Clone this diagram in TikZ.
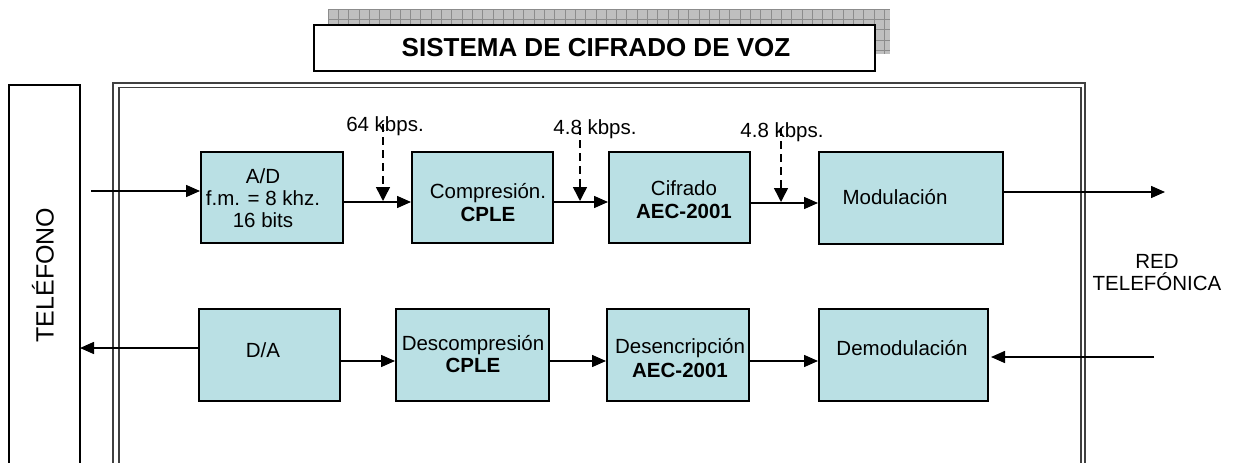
\documentclass[tikz,border=0pt]{standalone}
\usepackage{fontspec}
\setmainfont{Liberation Sans}
\usetikzlibrary{arrows.meta,calc}
\definecolor{boxfill}{RGB}{186,224,228}
\begin{document}
\begin{tikzpicture}[x=1pt,y=-1pt,
  blk/.style={draw=black,line width=1.5pt,fill=boxfill,inner sep=0pt,anchor=north west},
  txt/.style={font=\fontsize{20.5}{23}\selectfont,align=center,inner sep=0pt},
  arr/.style={line width=1.5pt,-{Triangle[length=14pt,width=12pt]}},
  darr/.style={line width=1.5pt,dash pattern=on 8pt off 5pt,-{Triangle[length=14pt,width=14pt]}},
  frame/.style={line width=1.3pt,draw=black!75},
]
\useasboundingbox (0,0) rectangle (1237,463);
% title shadow
\fill[black!25] (328,9) rectangle (890,54);
\foreach \i in {0,...,54} {\draw[black!45,line width=0.6pt] ({328+10.3*\i},9) -- ({328+10.3*\i},54);}
\foreach \j in {0,...,4} {\draw[black!45,line width=0.6pt] (328,{9+10.3*\j}) -- (890,{9+10.3*\j});}
\fill[white] (891,0) rectangle (900,60);
\node[draw,line width=2pt,fill=white,minimum width=561pt,minimum height=46pt,inner sep=0pt,anchor=north west] (title) at (313,24) {};
\node[txt,font=\fontsize{26}{28}\selectfont\bfseries] (titlet) at (596,48) {SISTEMA DE CIFRADO DE VOZ};
% telefono
\draw[line width=1.3pt] (9,463) -- (9,85) -- (80,85) -- (80,463);
\node[txt,font=\fontsize{25}{27}\selectfont,rotate=90] (telt) at (43,275) {TELÉFONO};
% main frame
\draw[frame] (113,463) -- (113,83) -- (1085,83) -- (1085,463);
\draw[frame] (119,463) -- (119,87.5) -- (1081,87.5) -- (1081,463);
% row 1
\node[blk,minimum width=142pt,minimum height=91pt] (ad) at (200,151) {};
\node[blk,minimum width=141pt,minimum height=91pt] (cp) at (411,151) {};
\node[blk,minimum width=141pt,minimum height=91pt] (cf) at (608,151) {};
\node[blk,minimum width=184pt,minimum height=92pt] (mo) at (818,151) {};
\node[txt,font=\fontsize{20.5}{21.7}\selectfont] (adt) at (263,198) {A/D\\f.m. = 8 khz.\\16 bits};
\node[txt] (cpt) at (488,203) {Compresión.\\\textbf{CPLE}};
\node[txt] (cft) at (684,200) {Cifrado\\\textbf{AEC-2001}};
\node[txt] (mot) at (895,197) {Modulación};
% row 2
\node[blk,minimum width=141pt,minimum height=92pt] (da) at (198,308) {};
\node[blk,minimum width=153pt,minimum height=92pt] (dc) at (395,308) {};
\node[blk,minimum width=142pt,minimum height=92pt] (de) at (606,308) {};
\node[blk,minimum width=169pt,minimum height=92pt] (dm) at (818,308) {};
\node[txt] (dat) at (263,350) {D/A};
\node[txt,font=\fontsize{20.5}{22}\selectfont] (dct) at (473,354) {Descompresión\\\textbf{CPLE}};
\node[txt,font=\fontsize{20.5}{24}\selectfont] (det) at (680,358) {Desencripción\\\textbf{AEC-2001}};
\node[txt] (dmt) at (902,348) {Demodulación};
% labels
\node[txt,anchor=base] (l1) at (385,131) {64 kbps.};
\node[txt,anchor=base] (l2) at (595,134) {4.8 kbps.};
\node[txt,anchor=base] (l3) at (782,137) {4.8 kbps.};
\node[txt,font=\fontsize{20.5}{22}\selectfont] (red) at (1157,273) {RED\\TELEFÓNICA};
% coordinates
\coordinate (inL) at (91,191);
\coordinate (outR) at (1165,192);
\coordinate (telR) at (80,348);
\coordinate (inR) at (1154,357);
\coordinate (demR) at (991,357);
\coordinate (d1s) at (383,124); \coordinate (d1e) at (383,201);
\coordinate (d2s) at (580,127); \coordinate (d2e) at (580,201);
\coordinate (d3s) at (781,128); \coordinate (d3e) at (781,202);
% row 1 arrows
\draw[arr] (inL) -- (ad.west |- inL);
\draw[arr] (ad.east |- 0,202) -- (cp.west |- 0,202);
\draw[arr] (cp.east |- 0,202) -- (cf.west |- 0,202);
\draw[arr] (cf.east |- 0,203) -- (mo.west |- 0,203);
\draw[arr] (mo.east |- outR) -- (outR);
% dashed
\draw[darr] (d1s) -- (d1e);
\draw[darr] (d2s) -- (d2e);
\draw[darr] (d3s) -- (d3e);
% row 2 arrows
\draw[arr] (da.west |- telR) -- (telR);
\draw[arr] (da.east |- 0,361) -- (dc.west |- 0,361);
\draw[arr] (dc.east |- 0,361) -- (de.west |- 0,361);
\draw[arr] (de.east |- 0,361) -- (dm.west |- 0,361);
\draw[arr] (inR) -- (demR);
\end{tikzpicture}
\end{document}
